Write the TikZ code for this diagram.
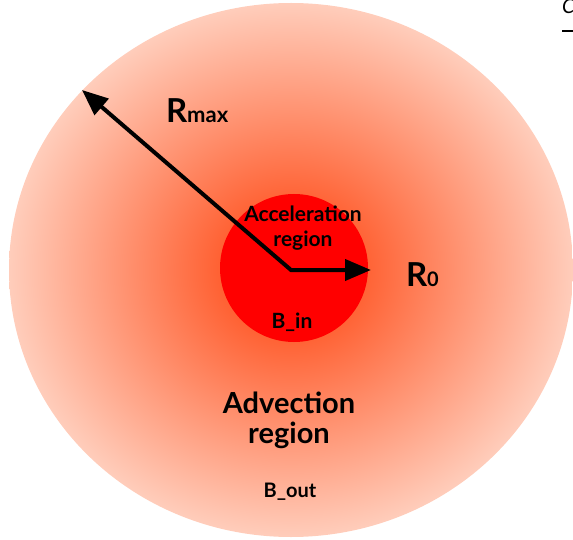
\documentclass[tikz,border=0pt]{standalone}
\usepackage{fontspec}
\setmainfont{Lato}
\usetikzlibrary{arrows.meta}
\definecolor{glowin}{RGB}{255,98,52}
\definecolor{glowout}{RGB}{255,205,187}
\definecolor{corered}{RGB}{255,0,0}
\pgfdeclareradialshading{bigglow}{\pgfpoint{0bp}{0bp}}{color(0bp)=(glowin); color(6.5bp)=(glowin); color(25bp)=(glowout); color(50bp)=(glowout)}
\tikzset{
  lbl/.style={inner sep=0pt, outer sep=0pt, text=black, font=\bfseries},
  radius arrow/.style={line width=4pt, line join=miter, {Triangle[length=26pt,width=21pt]}-{Triangle[length=26pt,width=21pt]}}
}
\begin{document}
\begin{tikzpicture}[x=1pt,y=-1pt]
\useasboundingbox (0,0) rectangle (573,540);
\coordinate (c) at (291,270);
\coordinate (ci) at (294,268);
% outer advection region
\path[shading=bigglow] (c) ellipse [x radius=282pt, y radius=267pt];
% inner acceleration region
\fill[corered] (ci) circle [radius=74pt];
% radius arrows
\coordinate (rmaxtip) at (82,90);
\coordinate (r0tip) at (371,270);
\draw[radius arrow] (rmaxtip) -- (c) -- (r0tip);
% labels
\node[lbl, anchor=base west] (rmax) at (166,123) {\fontsize{33}{36}\selectfont R\fontsize{22}{24}\selectfont max};
\node[lbl, anchor=base west] (rzero) at (406,287) {\fontsize{33}{36}\selectfont R\fontsize{20}{24}\selectfont 0};
\node[lbl, anchor=base] (acc1) at (303,222) {\fontsize{21}{24}\selectfont Acceleration};
\node[lbl, anchor=base] (acc2) at (303,247) {\fontsize{21}{24}\selectfont region};
\node[lbl, anchor=base] (bin) at (292,328) {\fontsize{21}{24}\selectfont B\_in};
\node[lbl, anchor=base] (adv1) at (289,413) {\fontsize{29}{32}\selectfont Advection};
\node[lbl, anchor=base] (adv2) at (289,443) {\fontsize{29}{32}\selectfont region};
\node[lbl, anchor=base] (bout) at (290,497) {\fontsize{20}{24}\selectfont B\_out};
% cropped fragment at top right
\node[inner sep=0pt, anchor=base west, font=\fontsize{20}{24}\selectfont\itshape] (frag) at (562,14) {C};
\coordinate (fragl) at (562,31);
\coordinate (fragr) at (575,31);
\draw[line width=1.6pt] (fragl) -- (fragr);
\end{tikzpicture}
\end{document}
